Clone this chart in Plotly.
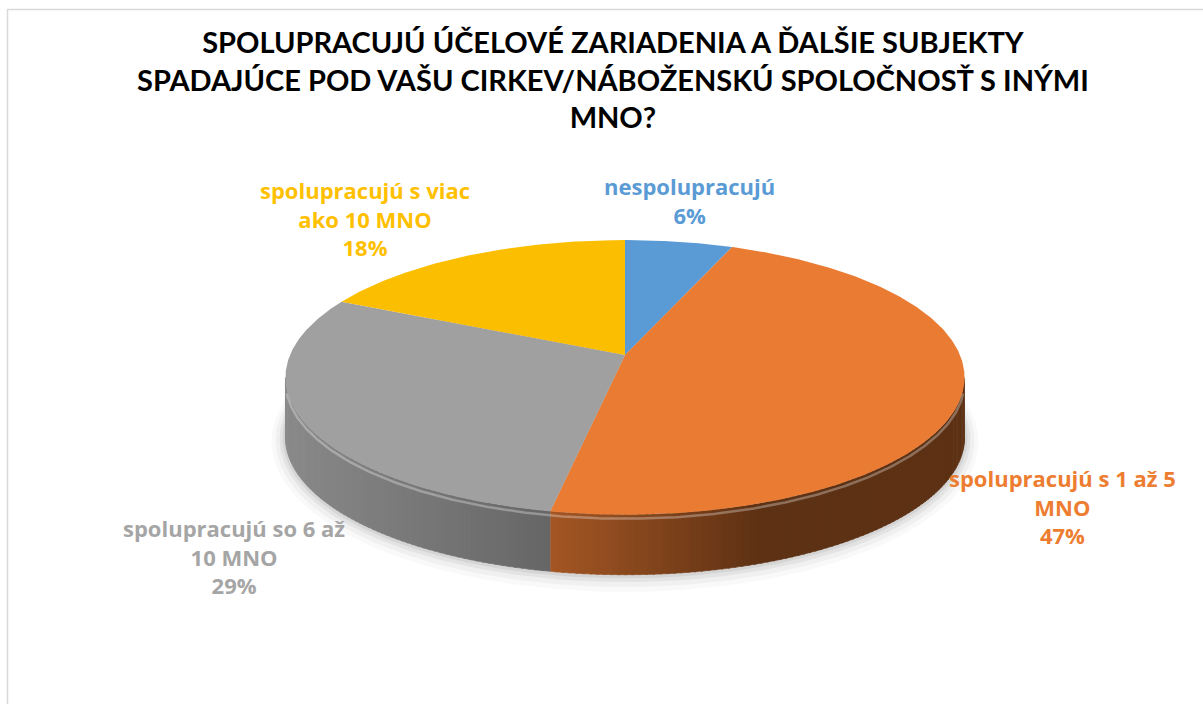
import numpy as np
import plotly.graph_objects as go

# ---- data ----
categories = ["nespolupracujú",
              "spolupracujú s 1 až 5<br>MNO",
              "spolupracujú so 6 až<br>10 MNO",
              "spolupracujú s viac<br>ako 10 MNO"]
values = [6, 47, 29, 18]
title_text = ("SPOLUPRACUJÚ ÚČELOVÉ ZARIADENIA A ĎALŠIE SUBJEKTY<br>"
              "SPADAJÚCE POD VAŠU CIRKEV/NÁBOŽENSKÚ SPOLOČNOSŤ S INÝMI<br>MNO?")

# ---- style / layout ----
top_colors = [(91, 155, 213), (234, 123, 51), (160, 160, 160), (251, 190, 0)]
label_colors = ["#5B9BD5", "#ED7D31", "#A5A5A5", "#FFC000"]
# side shading: (x_start, factor_start, x_end, factor_end)
side_shade = [(300, 0.8, 950, 0.4), (553, 0.70, 760, 0.40),
              (286, 0.86, 550, 0.64), (300, 0.8, 950, 0.4)]
label_pos = [(689, 200), (1062, 506), (234, 556), (365, 218)]

W, H = 1203, 704
cx, cy = 625, 355          # apex of pie
S, A, P = 335, 0.399, 0.163  # scale, tilt, perspective
DEPTH = 60


def proj(theta_deg, drop=0.0):
    t = np.radians(theta_deg)
    X, Z = np.sin(t), np.cos(t)
    w = 1 + P * Z
    return cx + S * X / w, cy - S * A * Z / w + drop


def rgb(c, f=1.0):
    return "rgb(%d,%d,%d)" % tuple(int(max(0, min(255, v * f))) for v in c)


fig = go.Figure()

# slice angles (clockwise from 12 o'clock)
total = sum(values)
bounds = np.concatenate([[0], np.cumsum(values) / total * 360])

# silhouette extremes
grid = np.linspace(0, 360, 3601)
gx, _ = proj(grid)
th_right = grid[np.argmax(gx)]
th_left = grid[np.argmin(gx)]

# soft shadow
for k, (off, alpha) in enumerate([(14, 0.025), (10, 0.035), (6, 0.05), (3, 0.06)]):
    th = np.linspace(0, 360, 361)
    sx, sy = proj(th)
    mx = cx + (sx - cx) * (1 + off / 340.0)
    my = (cy + 20) + (sy - (cy + 20)) * (1 + off / 150.0) + DEPTH + off * 0.3
    fig.add_trace(go.Scatter(x=mx, y=my, fill="toself", mode="lines",
                             line=dict(width=0), fillcolor="rgba(0,0,0,%g)" % alpha,
                             hoverinfo="skip", showlegend=False))

# side faces
for i in range(len(values)):
    a0, a1 = bounds[i], bounds[i + 1]
    lo, hi = max(a0, th_right), min(a1, th_left)
    if hi <= lo:
        continue
    n = max(2, int((hi - lo) / 1.0))
    edges = np.linspace(lo, hi, n + 1)
    xs0, xf0, xs1, xf1 = side_shade[i]
    for j in range(n):
        e0, e1 = edges[j], min(edges[j + 1] + 0.3, hi)
        th = np.linspace(e0, e1, 4)
        tx, ty = proj(th)
        bx, by = proj(th[::-1], DEPTH)
        mxv = proj((e0 + e1) / 2)[0]
        tt = np.clip((mxv - xs0) / (xs1 - xs0), 0, 1)
        f = xf0 + (xf1 - xf0) * tt
        col = rgb(top_colors[i], f)
        fig.add_trace(go.Scatter(x=np.concatenate([tx, bx]), y=np.concatenate([ty, by]),
                                 fill="toself", mode="lines", line=dict(width=0.6, color=col),
                                 fillcolor=col, hoverinfo="skip", showlegend=False))

# top faces
for i in range(len(values)):
    th = np.linspace(bounds[i], bounds[i + 1], max(3, int(values[i] * 8)))
    sx, sy = proj(th)
    fig.add_trace(go.Scatter(x=np.concatenate([[cx], sx, [cx]]),
                             y=np.concatenate([[cy], sy, [cy]]),
                             fill="toself", mode="lines", line=dict(width=0),
                             fillcolor=rgb(top_colors[i]), hoverinfo="skip",
                             showlegend=False))

# bevel highlight along front rim
th = np.linspace(th_right + 5, th_left - 5, 300)
hx, hy = proj(th, 4)
fig.add_trace(go.Scatter(x=hx, y=hy, mode="lines",
                         line=dict(width=2.5, color="rgba(255,255,255,0.30)"),
                         hoverinfo="skip", showlegend=False))

# labels
for i in range(len(values)):
    fig.add_annotation(x=label_pos[i][0], y=label_pos[i][1], xref="x", yref="y",
                       text="<b>%s<br>%d%%</b>" % (categories[i], values[i]),
                       showarrow=False, align="center", yanchor="middle",
                       font=dict(family="Open Sans", size=22, color=label_colors[i]))

fig.add_annotation(x=613, y=79, xref="x", yref="y", text="<b>%s</b>" % title_text,
                   showarrow=False, align="center", yanchor="middle",
                   font=dict(family="Lato", size=29, color="#000000"))

# chart border
fig.add_shape(type="rect", xref="x", yref="y", x0=7.5, y0=9.5, x1=1215, y1=720,
              line=dict(color="#d9d9d9", width=1.5))

fig.update_layout(width=W, height=H, margin=dict(l=0, r=0, t=0, b=0),
                  paper_bgcolor="white", plot_bgcolor="white",
                  xaxis=dict(range=[0, W], visible=False, fixedrange=True),
                  yaxis=dict(range=[H, 0], visible=False, fixedrange=True))

fig.write_html("out.html", config={"displayModeBar": False},
               post_script="document.body.style.margin='0';document.body.style.overflow='hidden';")
